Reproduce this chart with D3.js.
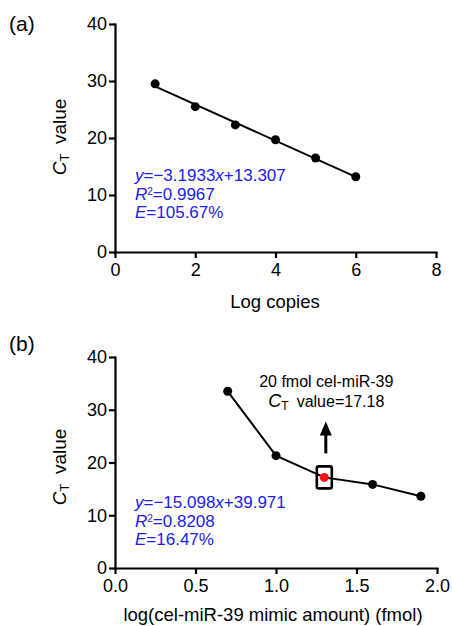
<!DOCTYPE html>
<html>
<head>
<meta charset="utf-8">
<script src="https://cdn.jsdelivr.net/npm/d3@7"></script>
<style>
  body { margin: 0; background: #fff; }
  svg { font-family: "Liberation Sans", Arial, sans-serif; }
  .axis path, .axis line { stroke: #000; stroke-width: 2.2px; }
  .axis text { font-size: 18px; fill: #000; }
</style>
</head>
<body>
<svg width="452" height="626"></svg>
<script>
// Panel (a): standard curve
const logCopies = [1, 2, 3, 4, 5, 6];
const ctA = [29.5, 25.5, 22.3, 19.7, 16.5, 13.2];
const ticksAX = [0, 2, 4, 6, 8];
const ticksY = [0, 10, 20, 30, 40];
const eqA = ["-3.1933", "+13.307", "0.9967", "105.67%"];

// Panel (b): mimic amount
const logMimic = [0.7, 1.0, 1.3, 1.6, 1.9];
const ctB = [33.5, 21.3, 17.18, 15.85, 13.6];
const ticksBX = [0, 0.5, 1.0, 1.5, 2.0];
const eqB = ["-15.098", "+39.971", "0.8208", "16.47%"];
const highlightIdx = 2;

const svg = d3.select("svg");
const blue = "#2020ee";

function drawPanel(cfg) {
  const g = svg.append("g");
  const x = d3.scaleLinear().domain(cfg.xDomain).range(cfg.xRange);
  const y = d3.scaleLinear().domain([0, 40]).range(cfg.yRange);

  g.append("g").attr("class", "axis")
    .attr("transform", `translate(0,${cfg.yRange[0]})`)
    .call(d3.axisBottom(x).tickValues(cfg.xTicks).tickSize(6).tickSizeOuter(0).tickPadding(5).tickFormat(cfg.xFmt));
  g.append("g").attr("class", "axis")
    .attr("transform", `translate(${cfg.xRange[0]},0)`)
    .call(d3.axisLeft(y).tickValues(ticksY).tickSize(6).tickSizeOuter(0).tickPadding(2));
  g.selectAll(".axis .domain").attr("stroke-linecap", "square");

  // panel label
  g.append("text").attr("x", 9).attr("y", cfg.labelY)
    .attr("font-size", 21).text(cfg.label);

  // x title
  g.append("text").attr("x", cfg.xTitleX).attr("y", cfg.xTitleY)
    .attr("text-anchor", "middle").attr("font-size", 18.5).text(cfg.xTitle);

  // y title
  const yt = g.append("text")
    .attr("transform", `translate(66,${cfg.yTitleY}) rotate(-90)`)
    .attr("text-anchor", "middle").attr("font-size", 19);
  yt.append("tspan").attr("font-style", "italic").text("C");
  yt.append("tspan").attr("font-size", 13).attr("baseline-shift", "-25%").text("T");
  yt.append("tspan").text("\u2002value");

  // line
  const line = d3.line().x(d => x(d[0])).y(d => y(d[1]));
  g.append("path").datum(cfg.lineData)
    .attr("fill", "none").attr("stroke", "#000").attr("stroke-width", 2)
    .attr("d", line);

  g.selectAll("circle.pt").data(cfg.xs.map((v, i) => [v, cfg.ys[i]]))
    .enter().append("circle").attr("class", "pt")
    .attr("cx", d => x(d[0])).attr("cy", d => y(d[1])).attr("r", 4.5)
    .attr("fill", (d, i) => i === cfg.hi ? "#ff1010" : "#000");

  // equation text
  const eq = g.append("g").attr("fill", blue).attr("font-size", 17);
  const l1 = eq.append("text").attr("x", 135).attr("y", cfg.eqY);
  l1.append("tspan").attr("font-style", "italic").text("y");
  l1.append("tspan").text("=" + cfg.eq[0].replace("-", "\u2212"));
  l1.append("tspan").attr("font-style", "italic").text("x");
  l1.append("tspan").text(cfg.eq[1]);
  const l2 = eq.append("text").attr("x", 135).attr("y", cfg.eqY + 18.5);
  l2.append("tspan").attr("font-style", "italic").text("R");
  l2.append("tspan").attr("font-size", 10).attr("baseline-shift", "super").text("2");
  l2.append("tspan").text("=" + cfg.eq[2]);
  const l3 = eq.append("text").attr("x", 135).attr("y", cfg.eqY + 37);
  l3.append("tspan").attr("font-style", "italic").text("E");
  l3.append("tspan").text("=" + cfg.eq[3]);

  return {g, x, y};
}

// least squares line for (a)
const mx = d3.mean(logCopies), my = d3.mean(ctA);
const slope = d3.sum(logCopies, (v, i) => (v - mx) * (ctA[i] - my)) / d3.sum(logCopies, v => (v - mx) ** 2);
const icpt = my - slope * mx;
const x0 = logCopies[0], x1 = logCopies[logCopies.length - 1];

drawPanel({
  label: "(a)", labelY: 31,
  xDomain: [0, 8], xRange: [115, 436], yRange: [252, 24],
  xTicks: ticksAX, xFmt: d3.format("d"),
  xTitle: "Log copies", xTitleX: 275, xTitleY: 308, yTitleY: 137,
  xs: logCopies, ys: ctA, hi: -1,
  lineData: [[x0, icpt + slope * x0], [x1, icpt + slope * x1]],
  eq: eqA, eqY: 181
});

const pb = drawPanel({
  label: "(b)", labelY: 351,
  xDomain: [0, 2], xRange: [115, 437], yRange: [568, 357],
  xTicks: ticksBX, xFmt: d3.format(".1f"),
  xTitle: "log(cel-miR-39 mimic amount) (fmol)", xTitleX: 273, xTitleY: 621, yTitleY: 467,
  xs: logMimic, ys: ctB, hi: highlightIdx,
  lineData: logMimic.map((v, i) => [v, ctB[i]]),
  eq: eqB, eqY: 508
});

// highlight box, arrow and annotation
const hx = pb.x(logMimic[highlightIdx]), hy = pb.y(ctB[highlightIdx]);
pb.g.append("rect").attr("x", hx - 7.5).attr("y", hy - 11).attr("width", 15).attr("height", 22)
  .attr("rx", 2).attr("fill", "none").attr("stroke", "#000").attr("stroke-width", 2.6);
pb.g.append("line").attr("x1", hx + 1.5).attr("x2", hx + 1.5).attr("y1", hy - 24).attr("y2", hy - 44)
  .attr("stroke", "#000").attr("stroke-width", 3);
pb.g.append("path")
  .attr("d", `M${hx + 1.5},${hy - 56} L${hx - 4.5},${hy - 42} L${hx + 7.5},${hy - 42} Z`)
  .attr("fill", "#000");
const ann = pb.g.append("g").attr("font-size", 16).attr("text-anchor", "middle");
ann.append("text").attr("x", hx + 2).attr("y", 387).text("20 fmol cel-miR-39");
const a2 = ann.append("text").attr("x", hx + 2).attr("y", 407);
a2.append("tspan").attr("font-style", "italic").attr("font-size", 18).text("C");
a2.append("tspan").attr("font-size", 12).attr("baseline-shift", "-25%").text("T");
a2.append("tspan").text("\u2002value=17.18");
</script>
</body>
</html>
